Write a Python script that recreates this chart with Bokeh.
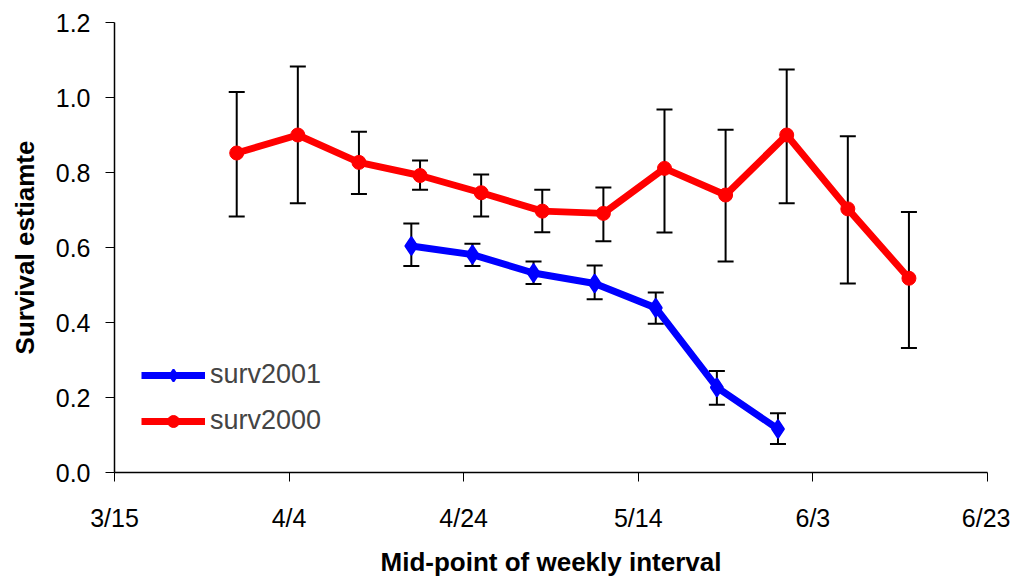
from datetime import datetime
from bokeh.plotting import figure
from bokeh.models import (Range1d, FixedTicker, Whisker, TeeHead, ColumnDataSource,
                          Legend, LegendItem, PrintfTickFormatter)
from bokeh.embed import file_html
from bokeh.resources import INLINE

# ---- data ----
dates_2000 = ["2001-03-29", "2001-04-05", "2001-04-12", "2001-04-19", "2001-04-26", "2001-05-03",
              "2001-05-10", "2001-05-17", "2001-05-24", "2001-05-31", "2001-06-07", "2001-06-14"]
surv2000 = [0.852, 0.900, 0.827, 0.792, 0.746, 0.697, 0.691, 0.811, 0.740, 0.900, 0.703, 0.518]
upper2000 = [1.015, 1.083, 0.909, 0.832, 0.795, 0.754, 0.760, 0.968, 0.914, 1.075, 0.897, 0.695]
lower2000 = [0.683, 0.718, 0.743, 0.754, 0.683, 0.641, 0.617, 0.640, 0.563, 0.718, 0.504, 0.332]

dates_2001 = ["2001-04-18", "2001-04-25", "2001-05-02", "2001-05-09", "2001-05-16", "2001-05-23",
              "2001-05-30"]
surv2001 = [0.604, 0.581, 0.532, 0.504, 0.439, 0.227, 0.116]
upper2001 = [0.664, 0.610, 0.563, 0.552, 0.480, 0.271, 0.158]
lower2001 = [0.551, 0.551, 0.503, 0.462, 0.397, 0.181, 0.076]

tick_dates = ["2001-03-15", "2001-04-04", "2001-04-24", "2001-05-14", "2001-06-03", "2001-06-23"]
tick_labels = ["3/15", "4/4", "4/24", "5/14", "6/3", "6/23"]
y_ticks = [0.0, 0.2, 0.4, 0.6, 0.8, 1.0, 1.2]


def to_dt(s):
    return datetime.strptime(s, "%Y-%m-%d")


def to_ms(s):
    return (to_dt(s) - datetime(1970, 1, 1)).total_seconds() * 1000.0


FONT = "Liberation Sans"

p = figure(width=1010, height=580, output_backend="svg", toolbar_location=None,
           x_axis_type="datetime",
           x_range=Range1d(to_dt(tick_dates[0]), to_dt(tick_dates[-1])),
           y_range=Range1d(0, 1.2),
           min_border_left=114, min_border_right=23, min_border_top=22, min_border_bottom=108)
p.outline_line_color = None
p.xgrid.grid_line_color = None
p.ygrid.grid_line_color = None
p.background_fill_color = "white"

src2000 = ColumnDataSource(dict(x=[to_dt(d) for d in dates_2000], y=surv2000,
                                up=upper2000, lo=lower2000))
src2001 = ColumnDataSource(dict(x=[to_dt(d) for d in dates_2001], y=surv2001,
                                up=upper2001, lo=lower2001))

for src in (src2000, src2001):
    w = Whisker(source=src, base="x", upper="up", lower="lo", dimension="height",
                line_color="black", line_width=2,
                upper_head=TeeHead(size=16, line_color="black", line_width=2),
                lower_head=TeeHead(size=16, line_color="black", line_width=2))
    w.level = "underlay"
    p.add_layout(w)

l2000 = p.line("x", "y", source=src2000, line_color="#ff0000", line_width=7)
m2000 = p.scatter("x", "y", source=src2000, marker="circle", size=14,
                  fill_color="#ff0000", line_color="#ff0000")
l2001 = p.line("x", "y", source=src2001, line_color="#0000ff", line_width=7)
m2001 = p.scatter("x", "y", source=src2001, marker="diamond", size=18,
                  fill_color="#0000ff", line_color="#0000ff", line_width=2)

legend = Legend(items=[LegendItem(label="surv2001", renderers=[l2001, m2001]),
                       LegendItem(label="surv2000", renderers=[l2000, m2000])],
                location=(27, 36), border_line_color=None, background_fill_alpha=0,
                padding=5, margin=0, spacing=15, glyph_width=64, glyph_height=30,
                label_height=30, label_standoff=5,
                label_text_font=FONT, label_text_font_size="27px")
p.add_layout(legend, "center")

# axes
p.xaxis.ticker = FixedTicker(ticks=[to_ms(d) for d in tick_dates])
p.xaxis.major_label_overrides = {to_ms(d): lab for d, lab in zip(tick_dates, tick_labels)}
p.yaxis.ticker = FixedTicker(ticks=y_ticks)
p.yaxis.formatter = PrintfTickFormatter(format="%.1f")

for ax in (p.xaxis[0], p.yaxis[0]):
    ax.axis_line_color = "black"
    ax.axis_line_width = 1.5
    ax.major_tick_line_color = "black"
    ax.major_tick_line_width = 1
    ax.major_tick_in = 0
    ax.major_tick_out = 9
    ax.minor_tick_line_color = None
    ax.major_label_text_font = FONT
    ax.major_label_text_font_size = "25px"
    ax.major_label_text_color = "black"
    ax.axis_label_text_font = FONT
    ax.axis_label_text_font_size = "26px"
    ax.axis_label_text_font_style = "bold"
    ax.axis_label_text_color = "black"

p.xaxis.axis_label = "Mid-point of weekly interval"
p.yaxis.axis_label = "Survival estiamte"
p.xaxis.major_label_standoff = 22
p.xaxis.axis_label_standoff = 12
p.yaxis.major_label_standoff = 15
p.yaxis.axis_label_standoff = 13

open("out.html", "w").write(file_html(p, INLINE))
